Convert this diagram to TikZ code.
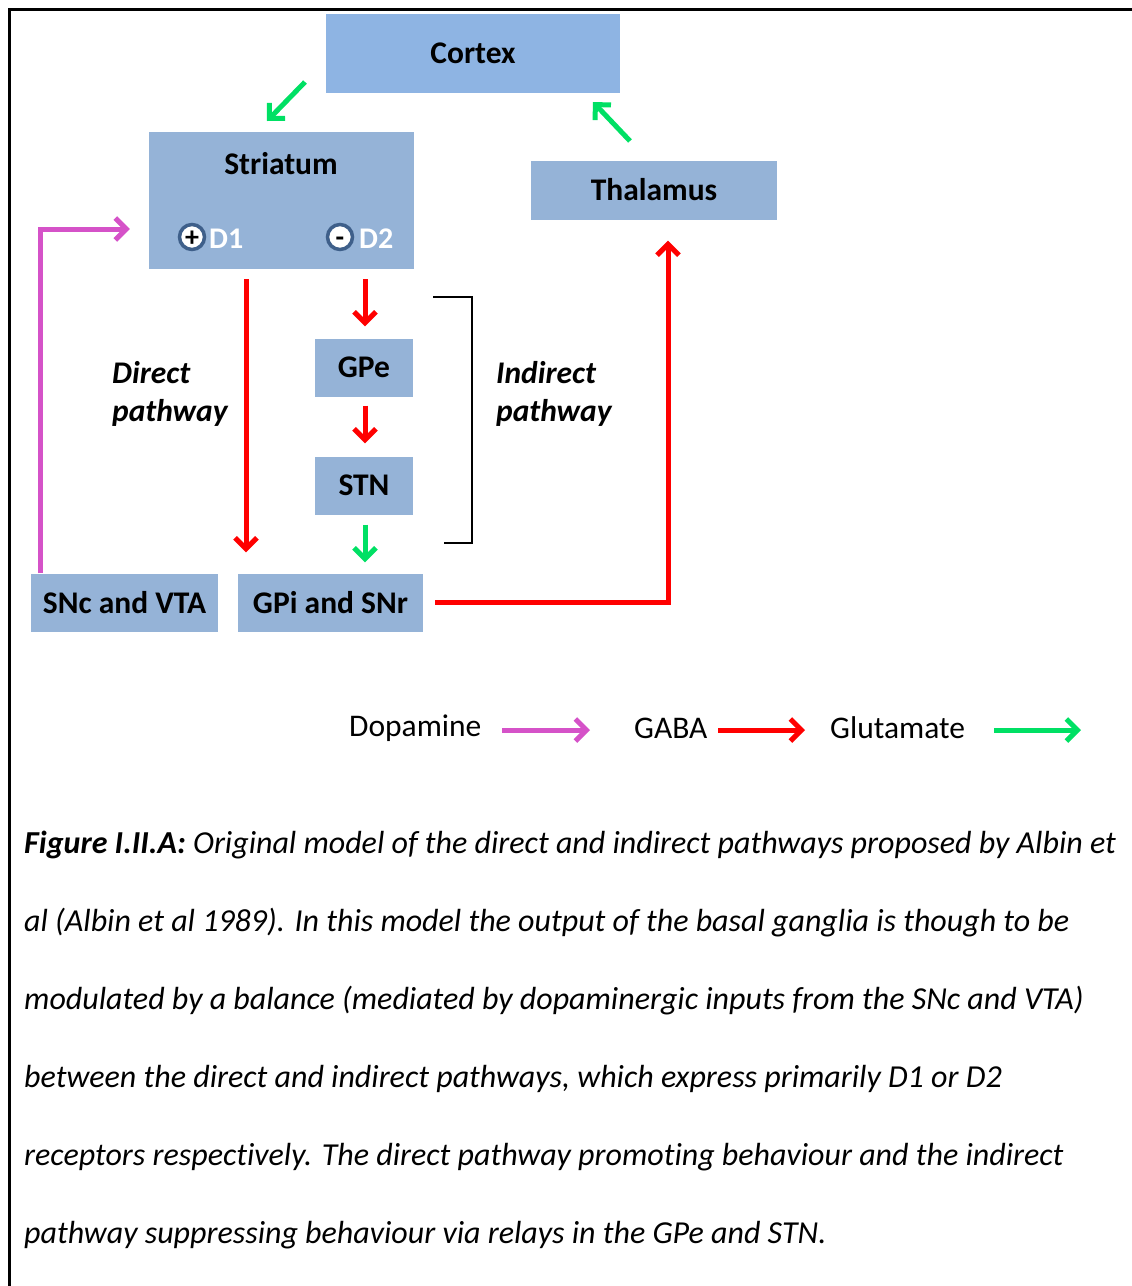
\documentclass[tikz,border=0pt]{standalone}
\usepackage{fontspec}
\setmainfont{Carlito}[Ligatures=NoCommon]
\usetikzlibrary{arrows.meta}
\definecolor{boxblue}{HTML}{95B3D7}
\definecolor{cortexblue}{HTML}{8EB4E3}
\definecolor{dopa}{HTML}{D552C8}
\definecolor{gaba}{HTML}{FF0000}
\definecolor{glu}{HTML}{00E064}
\definecolor{ringblue}{HTML}{3E5F8A}
\tikzset{
  area/.style={fill=boxblue, draw=none, font=\fontsize{31.5}{36}\selectfont\bfseries, inner sep=0pt},
  tip/.style={-{Straight Barb[length=11pt,width=22pt]}},
  dopaline/.style={tip, line width=5pt, draw=dopa},
  gabaline/.style={tip, line width=5pt, draw=gaba},
  gluline/.style={tip, line width=5pt, draw=glu},
  receptor/.style={circle, draw=ringblue, line width=3.5pt, fill=white, minimum size=25pt, inner sep=0pt, text height=18pt, text depth=0pt, font=\fontsize{28}{28}\selectfont\bfseries},
  rlabel/.style={text=white, font=\fontsize{30}{30}\selectfont\bfseries, inner sep=0pt},
  pathlabel/.style={font=\fontsize{31.5}{38}\selectfont\bfseries\itshape, align=left, inner sep=0pt, anchor=north west},
  legendtext/.style={font=\fontsize{31.5}{32}\selectfont, inner sep=0pt},
  captionline/.style={font=\fontsize{32}{34}\selectfont\itshape, inner sep=0pt, anchor=base west}
}
\begin{document}
\begin{tikzpicture}[x=1pt, y=-1pt]
\useasboundingbox (0,0) rectangle (1132,1286);

% open frame along the left and top
\draw[line width=3pt] (9,1286) -- (9,9) -- (1132,9);

% regions
\node[area, fill=cortexblue, minimum width=294pt, minimum height=79pt] (cortex) at (473,53) {Cortex};
\node[area, minimum width=265pt, minimum height=137pt] (striatum) at (281.5,200.5) {};
\node[inner sep=0pt, font=\fontsize{31.5}{36}\selectfont\bfseries] (strtitle) at (281,164) {Striatum};
\node[receptor] (d1) at (192,237) {+};
\node[rlabel, anchor=west] (d1txt) at (209,239) {D1};
\node[receptor] (d2) at (340,237) {-};
\node[rlabel, anchor=west] (d2txt) at (359,239) {D2};
\node[area, minimum width=246pt, minimum height=59pt] (thalamus) at (654,190) {Thalamus};
\node[area, minimum width=98pt, minimum height=58pt] (gpe) at (364,367.5) {GPe};
\node[area, minimum width=98pt, minimum height=58pt] (stn) at (364,485.5) {STN};
\node[area, minimum width=187pt, minimum height=58pt] (snc) at (124.5,602.5) {SNc and VTA};
\node[area, minimum width=185pt, minimum height=58pt] (gpi) at (330.5,602.5) {GPi and SNr};

% pathway labels
\node[pathlabel] (direct) at (112,361) {Direct\\pathway};
\node[pathlabel] (indirect) at (496,361) {Indirect\\pathway};

% cortical loop
\coordinate (c2s-from) at (305,82);
\coordinate (c2s-to) at (267,121);
\draw[gluline] (c2s-from) -- (c2s-to);
\coordinate (t2c-from) at (630,141);
\coordinate (t2c-to) at (593,102);
\draw[gluline] (t2c-from) -- (t2c-to);

% direct pathway
\draw[gabaline, shorten <=10pt, shorten >=21pt] (striatum.south -| 246,0) -- (gpi.north -| 246,0);

% indirect pathway
\draw[gabaline, shorten <=10pt, shorten >=12pt] (striatum.south -| 365,0) -- (gpe.north -| 365,0);
\draw[gabaline, shorten <=9pt, shorten >=13pt] (gpe.south -| 365,0) -- (stn.north -| 365,0);
\draw[gluline, shorten <=10pt, shorten >=11pt] (stn.south -| 365,0) -- (gpi.north -| 365,0);

% output to thalamus
\draw[gabaline, shorten <=12pt, shorten >=21pt] (gpi.east) -- (gpi.east -| 668,0) -- (thalamus.south -| 668,0);

% dopaminergic input
\draw[dopaline, shorten >=19pt] (snc.north -| 40,0) |- (striatum.west |- 0,229);

% bracket around the indirect pathway
\coordinate (br-top) at (433,297);
\coordinate (br-bot) at (444,543);
\draw[line width=2pt] (br-top) -- (472,297) -- (472,543) -- (br-bot);

% legend
\node[legendtext, anchor=west] (lg-dopa) at (349,728) {Dopamine};
\coordinate (lg-dopa-end) at (590,730);
\draw[dopaline] (502,730) -- (lg-dopa-end);
\node[legendtext, anchor=west] (lg-gaba) at (634,728) {GABA};
\coordinate (lg-gaba-end) at (805,730);
\draw[gabaline] (718,730) -- (lg-gaba-end);
\node[legendtext, anchor=west] (lg-glu) at (830,728) {Glutamate};
\coordinate (lg-glu-end) at (1081,730);
\draw[gluline] (994,730) -- (lg-glu-end);

% caption
\node[captionline] (cap1) at (24,853) {\textbf{Figure I.II.A:} Original model of the direct and indirect pathways proposed by Albin et};
\node[captionline] (cap2) at (24,931) {al (Albin et al 1989). In this model the output of the basal ganglia is though to be};
\node[captionline] (cap3) at (24,1009) {modulated by a balance (mediated by dopaminergic inputs from the SNc and VTA)};
\node[captionline] (cap4) at (24,1087) {between the direct and indirect pathways, which express primarily D1 or D2};
\node[captionline] (cap5) at (24,1165) {receptors respectively. The direct pathway promoting behaviour and the indirect};
\node[captionline] (cap6) at (24,1243) {pathway suppressing behaviour via relays in the GPe and STN.};
\end{tikzpicture}
\end{document}
